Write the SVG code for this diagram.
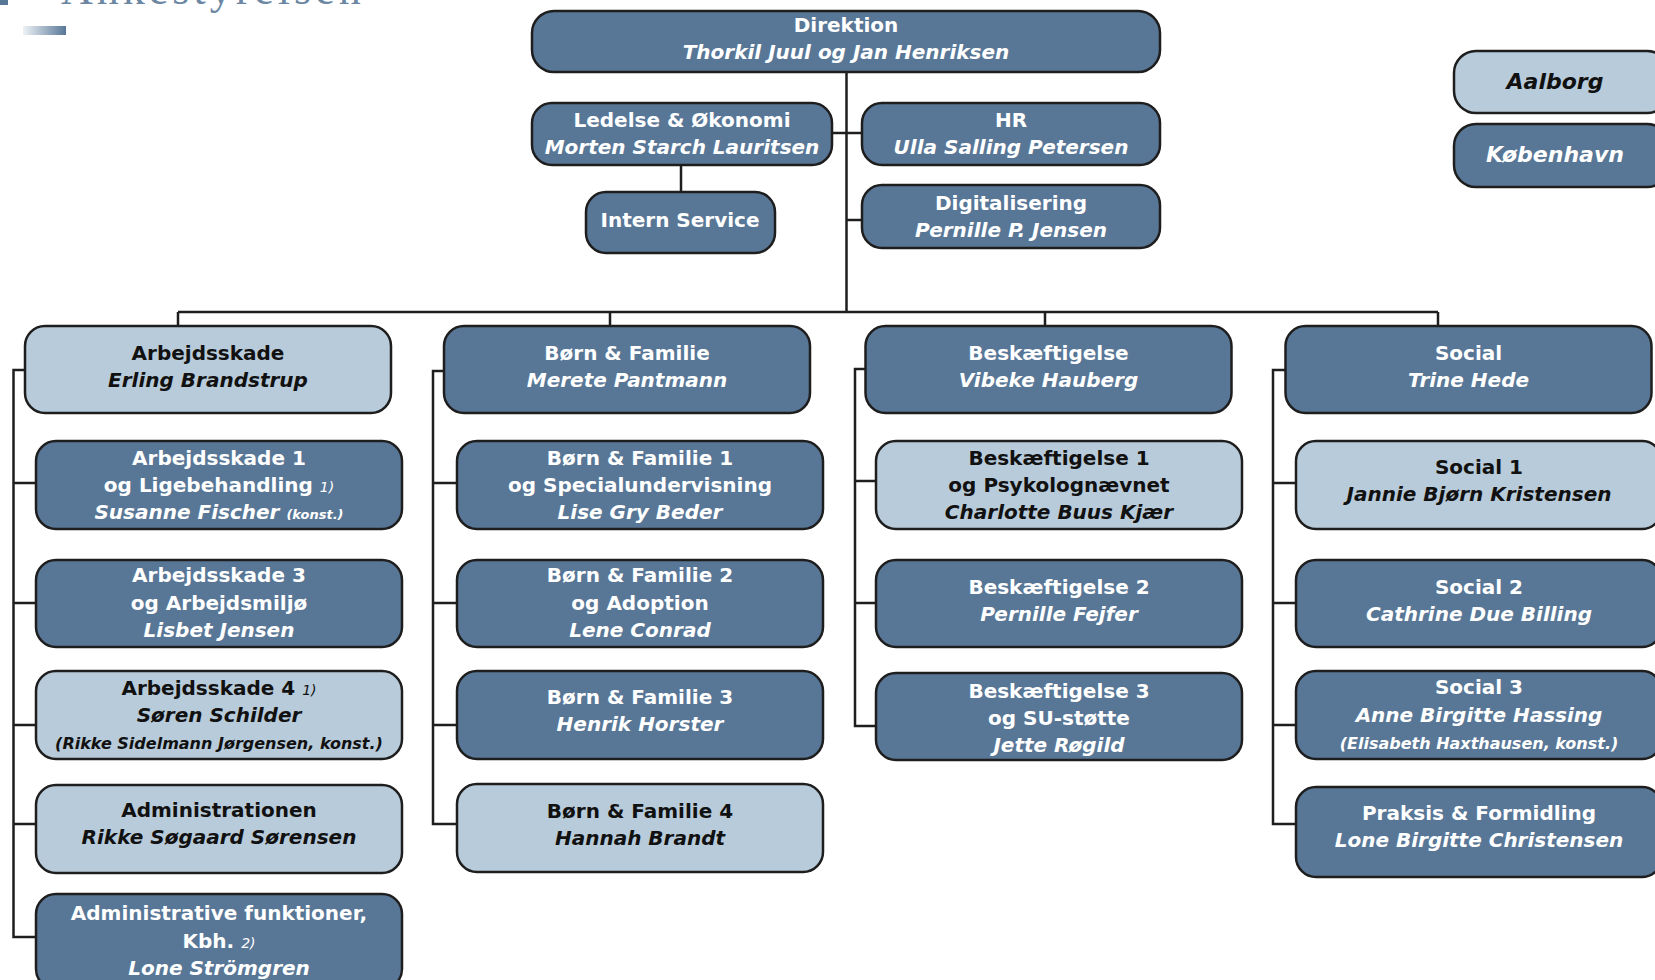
<svg xmlns="http://www.w3.org/2000/svg" width="1655" height="980" viewBox="0 0 1655 980">
<style>
.d{fill:#587797;stroke:#1e1e1e;stroke-width:2.5}
.l{fill:#b8cbda;stroke:#1e1e1e;stroke-width:2.5}
.t{font-family:"DejaVu Sans",Verdana,sans-serif;font-weight:bold;font-size:20px;text-anchor:middle}
.w{fill:#ffffff}
.k{fill:#111111}
.i{font-style:italic}
.fn{font-size:14px;font-weight:normal;font-style:italic}
.kon{font-size:13px;font-style:italic}
.par{font-size:16px;font-style:italic}
.big{font-size:22px;font-style:italic}
.c{fill:none;stroke:#1e1e1e;stroke-width:2.5}
</style>
<defs>
<linearGradient id="bar" x1="0" y1="0" x2="1" y2="0">
<stop offset="0" stop-color="#eef2f6"/>
<stop offset="1" stop-color="#587797"/>
</linearGradient>
</defs>
<rect width="1655" height="980" fill="#ffffff"/>
<g id="title">
<rect x="0" y="0" width="8" height="5" fill="#587797"/>
<text x="61" y="4" font-family="Liberation Serif,serif" font-size="44" letter-spacing="4" fill="#6c87a3">Ankestyrelsen</text>
<rect x="23" y="26" width="43" height="9" fill="url(#bar)"/>
</g>
<g id="connectors">
<path class="c" d="M846.5,72V312"/>
<path class="c" d="M832,133H862"/>
<path class="c" d="M681,165V192"/>
<path class="c" d="M846.5,220H862"/>
<path class="c" d="M178,312H1438"/>
<path class="c" d="M178,312V326M610,312V326M1045,312V326M1438,312V326"/>
<path class="c" d="M25,370H13.5V937H36M13.5,483H36M13.5,603H36M13.5,725H36M13.5,824H36"/>
<path class="c" d="M444,371H433V824H457M433,483H457M433,603H457M433,725H457"/>
<path class="c" d="M865.5,369H855V726H876M855,481H876M855,603H876"/>
<path class="c" d="M1285.5,370H1273V824H1296M1273,483H1296M1273,603H1296M1273,725H1296"/>
</g>
<g id="direktion">
<rect class="d" x="532" y="11" width="628" height="61" rx="22"/>
<text class="t w" x="846" y="32">Direktion</text>
<text class="t w i" x="846" y="59">Thorkil Juul og Jan Henriksen</text>
</g>
<g id="ledelse">
<rect class="d" x="532" y="103" width="300" height="62" rx="20"/>
<text class="t w" x="682" y="127">Ledelse &amp; Økonomi</text>
<text class="t w i" x="682" y="154">Morten Starch Lauritsen</text>
</g>
<g id="hr">
<rect class="d" x="862" y="103" width="298" height="62" rx="20"/>
<text class="t w" x="1011" y="127">HR</text>
<text class="t w i" x="1011" y="154">Ulla Salling Petersen</text>
</g>
<g id="intern-service">
<rect class="d" x="586" y="192" width="189" height="61" rx="20"/>
<text class="t w" x="680" y="227">Intern Service</text>
</g>
<g id="digitalisering">
<rect class="d" x="862" y="185" width="298" height="63" rx="20"/>
<text class="t w" x="1011" y="210">Digitalisering</text>
<text class="t w i" x="1011" y="237">Pernille P. Jensen</text>
</g>
<g id="aalborg">
<rect class="l" x="1454" y="51" width="215" height="62" rx="22"/>
<text class="t k big" x="1555" y="89">Aalborg</text>
</g>
<g id="koebenhavn">
<rect class="d" x="1454" y="124" width="215" height="63" rx="22"/>
<text class="t w big" x="1555" y="162">København</text>
</g>
<g id="arbejdsskade">
<rect class="l" x="25" y="326" width="366" height="87" rx="20"/>
<text class="t k" x="208" y="360">Arbejdsskade</text>
<text class="t k i" x="208" y="387">Erling Brandstrup</text>
</g>
<g id="arbejdsskade-1">
<rect class="d" x="36" y="441" width="366" height="88" rx="20"/>
<text class="t w" x="219" y="465">Arbejdsskade 1</text>
<text class="t w" x="219" y="492">og Ligebehandling <tspan class="fn">1)</tspan></text>
<text class="t w i" x="219" y="519">Susanne Fischer <tspan class="kon">(konst.)</tspan></text>
</g>
<g id="arbejdsskade-3">
<rect class="d" x="36" y="560" width="366" height="87" rx="20"/>
<text class="t w" x="219" y="582">Arbejdsskade 3</text>
<text class="t w" x="219" y="610">og Arbejdsmiljø</text>
<text class="t w i" x="219" y="637">Lisbet Jensen</text>
</g>
<g id="arbejdsskade-4">
<rect class="l" x="36" y="671" width="366" height="88" rx="20"/>
<text class="t k" x="219" y="695">Arbejdsskade 4 <tspan class="fn">1)</tspan></text>
<text class="t k i" x="219" y="722">Søren Schilder</text>
<text class="t k par" x="219" y="749">(Rikke Sidelmann Jørgensen, konst.)</text>
</g>
<g id="administrationen">
<rect class="l" x="36" y="785" width="366" height="88" rx="20"/>
<text class="t k" x="219" y="817">Administrationen</text>
<text class="t k i" x="219" y="844">Rikke Søgaard Sørensen</text>
</g>
<g id="administrative-funktioner">
<rect class="d" x="36" y="894" width="366" height="95" rx="20"/>
<text class="t w" x="219" y="920">Administrative funktioner,</text>
<text class="t w" x="219" y="948">Kbh. <tspan class="fn">2)</tspan></text>
<text class="t w i" x="219" y="975">Lone Strömgren</text>
</g>
<g id="boern-familie">
<rect class="d" x="444" y="326" width="366" height="87" rx="20"/>
<text class="t w" x="627" y="360">Børn &amp; Familie</text>
<text class="t w i" x="627" y="387">Merete Pantmann</text>
</g>
<g id="boern-familie-1">
<rect class="d" x="457" y="441" width="366" height="88" rx="20"/>
<text class="t w" x="640" y="465">Børn &amp; Familie 1</text>
<text class="t w" x="640" y="492">og Specialundervisning</text>
<text class="t w i" x="640" y="519">Lise Gry Beder</text>
</g>
<g id="boern-familie-2">
<rect class="d" x="457" y="560" width="366" height="87" rx="20"/>
<text class="t w" x="640" y="582">Børn &amp; Familie 2</text>
<text class="t w" x="640" y="610">og Adoption</text>
<text class="t w i" x="640" y="637">Lene Conrad</text>
</g>
<g id="boern-familie-3">
<rect class="d" x="457" y="671" width="366" height="88" rx="20"/>
<text class="t w" x="640" y="704">Børn &amp; Familie 3</text>
<text class="t w i" x="640" y="731">Henrik Horster</text>
</g>
<g id="boern-familie-4">
<rect class="l" x="457" y="784" width="366" height="88" rx="20"/>
<text class="t k" x="640" y="818">Børn &amp; Familie 4</text>
<text class="t k i" x="640" y="845">Hannah Brandt</text>
</g>
<g id="beskaeftigelse">
<rect class="d" x="865.5" y="326" width="366" height="87" rx="20"/>
<text class="t w" x="1048.5" y="360">Beskæftigelse</text>
<text class="t w i" x="1048.5" y="387">Vibeke Hauberg</text>
</g>
<g id="beskaeftigelse-1">
<rect class="l" x="876" y="441" width="366" height="88" rx="20"/>
<text class="t k" x="1059" y="465">Beskæftigelse 1</text>
<text class="t k" x="1059" y="492">og Psykolognævnet</text>
<text class="t k i" x="1059" y="519">Charlotte Buus Kjær</text>
</g>
<g id="beskaeftigelse-2">
<rect class="d" x="876" y="560" width="366" height="87" rx="20"/>
<text class="t w" x="1059" y="594">Beskæftigelse 2</text>
<text class="t w i" x="1059" y="621">Pernille Fejfer</text>
</g>
<g id="beskaeftigelse-3">
<rect class="d" x="876" y="673" width="366" height="87" rx="20"/>
<text class="t w" x="1059" y="698">Beskæftigelse 3</text>
<text class="t w" x="1059" y="725">og SU-støtte</text>
<text class="t w i" x="1059" y="752">Jette Røgild</text>
</g>
<g id="social">
<rect class="d" x="1285.5" y="326" width="366" height="87" rx="20"/>
<text class="t w" x="1468.5" y="360">Social</text>
<text class="t w i" x="1468.5" y="387">Trine Hede</text>
</g>
<g id="social-1">
<rect class="l" x="1296" y="441" width="366" height="88" rx="20"/>
<text class="t k" x="1479" y="474">Social 1</text>
<text class="t k i" x="1479" y="501">Jannie Bjørn Kristensen</text>
</g>
<g id="social-2">
<rect class="d" x="1296" y="560" width="366" height="87" rx="20"/>
<text class="t w" x="1479" y="594">Social 2</text>
<text class="t w i" x="1479" y="621">Cathrine Due Billing</text>
</g>
<g id="social-3">
<rect class="d" x="1296" y="671" width="366" height="88" rx="20"/>
<text class="t w" x="1479" y="694">Social 3</text>
<text class="t w i" x="1479" y="722">Anne Birgitte Hassing</text>
<text class="t w par" x="1479" y="749">(Elisabeth Haxthausen, konst.)</text>
</g>
<g id="praksis-formidling">
<rect class="d" x="1296" y="787" width="366" height="90" rx="20"/>
<text class="t w" x="1479" y="820">Praksis &amp; Formidling</text>
<text class="t w i" x="1479" y="847">Lone Birgitte Christensen</text>
</g>
</svg>
